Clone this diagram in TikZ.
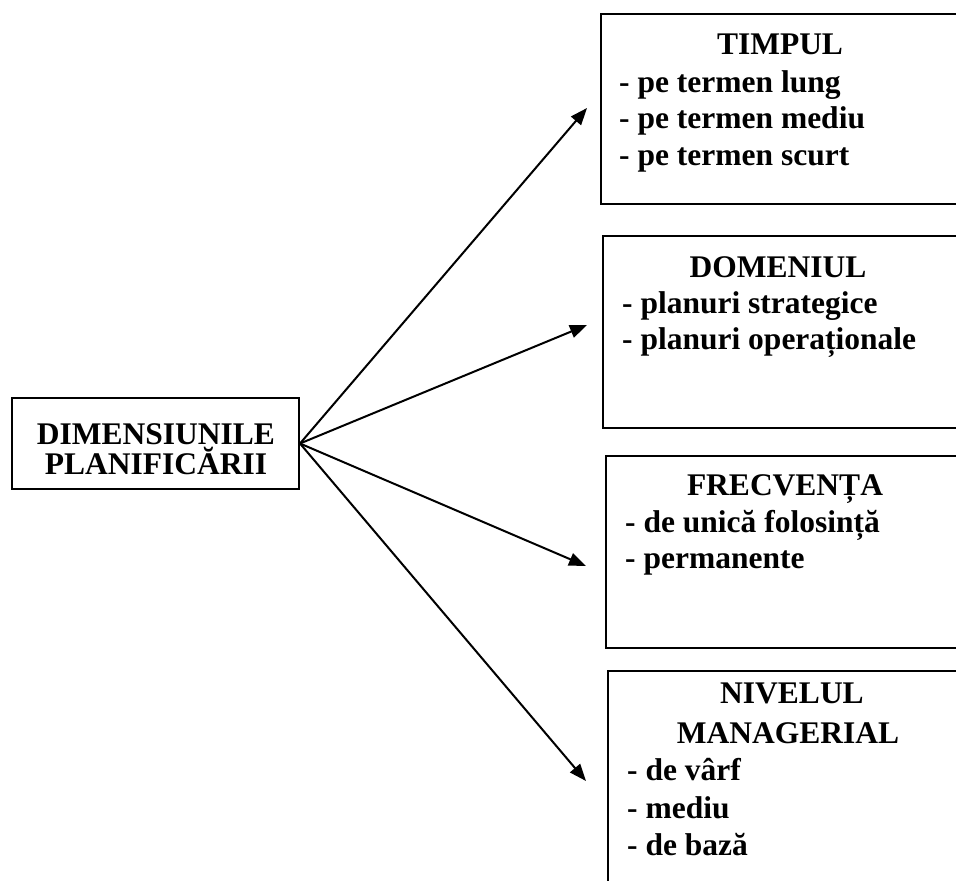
\documentclass[tikz,border=0pt]{standalone}
\usepackage{fontspec}
\setmainfont{Liberation Serif}
\usetikzlibrary{arrows.meta}
\begin{document}
\begin{tikzpicture}[x=1pt,y=-1pt,
  box/.style={draw,line width=2pt,rectangle,inner sep=0pt,anchor=north west},
  hd/.style={anchor=base,inner sep=0pt,font=\fontsize{31.5}{36}\selectfont\bfseries},
  it/.style={anchor=base west,inner sep=0pt,font=\fontsize{31.5}{36}\selectfont\bfseries},
  conn/.style={line width=2pt,-{Triangle[length=17pt,width=13pt]}}]
\clip (0,0) rectangle (956,881);
\fill[white] (0,0) rectangle (956,881);
% boxes
\node[box,minimum width=287pt,minimum height=91pt] (dim) at (11,397) {};
\node[box,minimum width=370pt,minimum height=190pt] (timp) at (600,13) {};
\node[box,minimum width=370pt,minimum height=192pt] (dom) at (602,235) {};
\node[box,minimum width=370pt,minimum height=192pt] (frec) at (605,455) {};
\node[box,minimum width=370pt,minimum height=240pt] (niv) at (607,670) {};
% left texts
\node[hd] (d1) at (156,444) {DIMENSIUNILE};
\node[hd] (d2) at (156,474) {PLANIFICĂRII};
% TIMPUL
\node[hd] (t0) at (780,54) {TIMPUL};
\node[it] (t1) at (619,92) {- pe termen lung};
\node[it] (t2) at (619,128) {- pe termen mediu};
\node[it] (t3) at (619,165) {- pe termen scurt};
% DOMENIUL
\node[hd] (o0) at (778,277) {DOMENIUL};
\node[it] (o1) at (622,313) {- planuri strategice};
\node[it] (o2) at (622,349) {- planuri operaționale};
% FRECVENTA
\node[hd] (f0) at (785,495) {FRECVENȚA};
\node[it] (f1) at (625,532) {- de unică folosință};
\node[it] (f2) at (625,568) {- permanente};
% NIVELUL
\node[hd] (n0) at (792,703) {NIVELUL};
\node[hd] (n1) at (788,743) {MANAGERIAL};
\node[it] (n2) at (627,780) {- de vârf};
\node[it] (n3) at (627,818) {- mediu};
\node[it] (n4) at (627,855) {- de bază};
% arrow ends
\coordinate (a1) at (587,108);
\coordinate (a2) at (587,325);
\coordinate (a3) at (586,566);
\coordinate (a4) at (586,781);
\draw[conn] (dim.east) -- (a1);
\draw[conn] (dim.east) -- (a2);
\draw[conn] (dim.east) -- (a3);
\draw[conn] (dim.east) -- (a4);
\end{tikzpicture}
\end{document}
